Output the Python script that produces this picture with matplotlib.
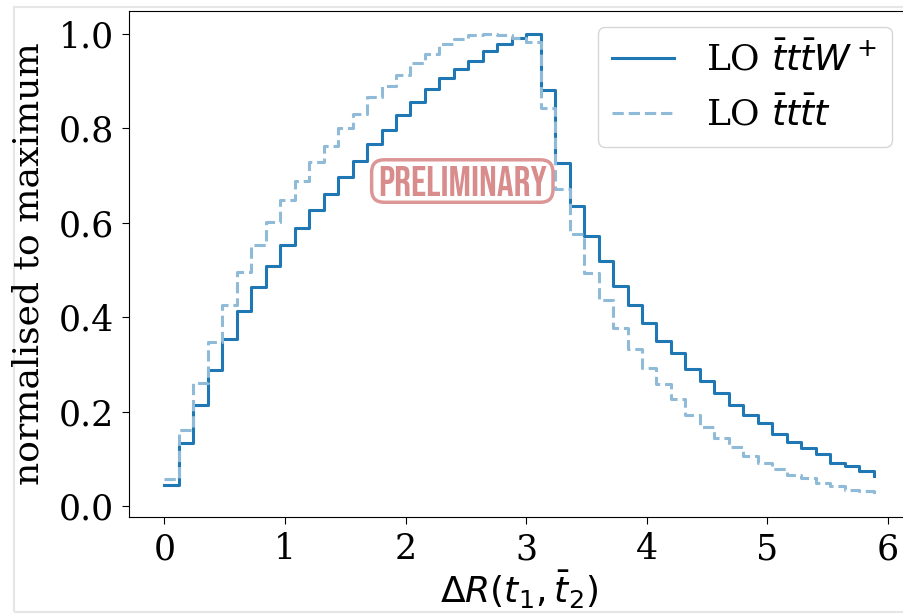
import numpy as np
import matplotlib
matplotlib.use("Agg")
import matplotlib.pyplot as plt
from matplotlib.patches import Rectangle

plt.rcParams['font.family'] = 'serif'
plt.rcParams['font.serif'] = ['DejaVu Serif']
plt.rcParams['mathtext.fontset'] = 'dejavusans'
plt.rcParams['font.size'] = 25

# left bin edges, width 0.12
bin_width = 0.12
n_bins = 50

# LO ttbar W+  (normalised to maximum)
ttw = [0.046, 0.133, 0.215, 0.288, 0.353, 0.413, 0.463, 0.508, 0.553, 0.588,
       0.626, 0.660, 0.696, 0.731, 0.766, 0.795, 0.828, 0.855, 0.883, 0.906,
       0.924, 0.941, 0.963, 0.977, 0.990, 1.000, 0.881, 0.726, 0.636, 0.572,
       0.519, 0.466, 0.425, 0.388, 0.350, 0.324, 0.290, 0.265, 0.239, 0.215,
       0.194, 0.176, 0.152, 0.136, 0.124, 0.110, 0.092, 0.086, 0.074, 0.064]

# LO tttt
tttt = [0.058, 0.162, 0.261, 0.348, 0.426, 0.496, 0.553, 0.602, 0.648, 0.689,
        0.729, 0.763, 0.800, 0.830, 0.865, 0.889, 0.913, 0.938, 0.957, 0.978,
        0.989, 0.997, 1.000, 0.997, 0.991, 0.982, 0.843, 0.671, 0.576, 0.494,
        0.436, 0.378, 0.333, 0.293, 0.258, 0.226, 0.194, 0.168, 0.145, 0.126,
        0.106, 0.092, 0.078, 0.067, 0.060, 0.049, 0.042, 0.035, 0.032, 0.026]

x = np.arange(n_bins) * bin_width

fig = plt.figure(figsize=(9.04, 6.15), dpi=100)
ax = fig.add_axes([0.1427, 0.1593, 0.8628, 0.8236])

ax.step(x, ttw, where='post', color='#1f77b4', lw=2.2, label=r'LO $\bar{t}t\bar{t}W^+$')
ax.step(x, tttt, where='post', color='#8fbbd9', lw=2.2, ls='--', label=r'LO $\bar{t}t\bar{t}t$')

ax.set_xlabel(r'$\Delta R(t_1, \bar{t}_2)$', fontsize=26, labelpad=2)
ax.set_ylabel('normalised to maximum', fontsize=26, labelpad=9)
ax.tick_params(length=5, pad=6)
ax.spines['right'].set_visible(False)

ax.legend(loc='upper right', bbox_to_anchor=(0.978, 0.967), borderaxespad=0,
          fontsize=26, handlelength=1.7, handletextpad=0.9)

ax.text(2.47, 0.688, 'PRELIMINARY', family='Bebas Neue',
        fontsize=30, color='#d98c8c', ha='center', va='center',
        bbox=dict(boxstyle='round,pad=0.15,rounding_size=0.3', facecolor='white',
                  edgecolor='#dd9696', linewidth=2.5))

# light screenshot frame
fig.add_artist(Rectangle((14 / 904, 3 / 615), 1.0, 605 / 615, transform=fig.transFigure,
                         fill=False, edgecolor='#e6e6e6', linewidth=1.5, zorder=-5))

fig.savefig('out.png', dpi=100)
